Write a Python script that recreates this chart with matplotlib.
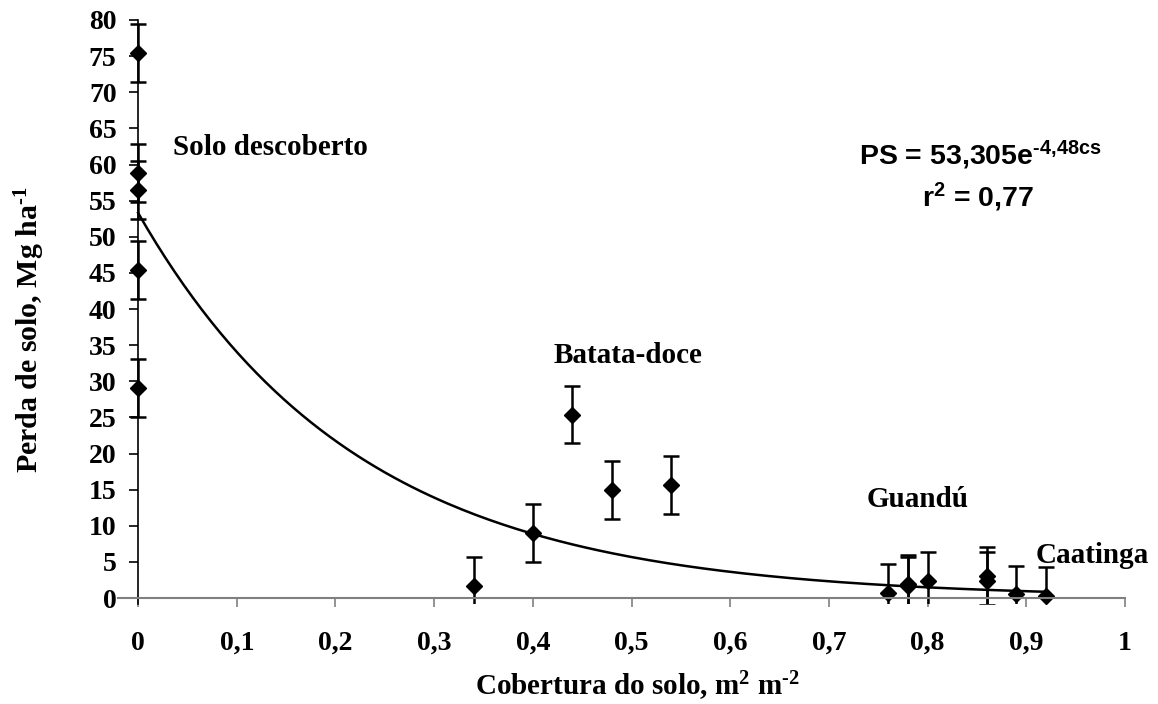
import numpy as np
import matplotlib
matplotlib.use("Agg")
import matplotlib.pyplot as plt

# cobertura do solo (m2 m-2) e perda de solo (Mg/ha)
cobertura = [0, 0, 0, 0, 0, 0.34, 0.40, 0.44, 0.48, 0.54,
             0.76, 0.78, 0.78, 0.80, 0.86, 0.86, 0.89, 0.92]
perda = [75.4, 58.8, 56.5, 45.4, 29.1, 1.7, 9.0, 25.4, 14.9, 15.6,
         0.7, 2.0, 1.7, 2.4, 3.1, 2.4, 0.5, 0.3]
erro = [4.0] * len(perda)

# ajuste exponencial PS = a * exp(b * cs)
a, b = 53.305, -4.48

xticks = [0, 0.1, 0.2, 0.3, 0.4, 0.5, 0.6, 0.7, 0.8, 0.9, 1]
xtick_labels = ["0", "0,1", "0,2", "0,3", "0,4", "0,5", "0,6", "0,7", "0,8", "0,9", "1"]
yticks = list(range(0, 81, 5))

serif = "Liberation Serif"
sans = "Liberation Sans"
hifen = "\u2010"

fig = plt.figure(figsize=(11.58, 7.04), dpi=100)
ax = fig.add_axes([0.1022, 0.1423, 0.8693, 0.8293])

cs = np.linspace(0, 0.92, 200)
ax.plot(cs, a * np.exp(b * cs), color="black", lw=1.8)

ax.errorbar(cobertura, perda, yerr=erro, fmt="D", color="black", ms=8,
            capsize=5.5, elinewidth=1.8, capthick=1.8)

ax.set_xlim(-0.02, 1.0)
ax.set_ylim(-0.8, 80)
ax.spines["left"].set_position(("data", 0))
ax.spines["bottom"].set_position(("data", 0))
ax.spines["top"].set_visible(False)
ax.spines["right"].set_visible(False)
ax.spines["bottom"].set_color("#808080")
ax.spines["bottom"].set_linewidth(1.5)
ax.spines["left"].set_linewidth(1.2)

ax.set_xticks(xticks)
ax.set_xticklabels(xtick_labels)
ax.set_yticks(yticks)
ax.tick_params(axis="x", direction="out", length=6.5, width=1.2, color="#808080", pad=17)
ax.tick_params(axis="y", direction="out", length=6.5, width=1.2, pad=9)
for lab in ax.get_xticklabels() + ax.get_yticklabels():
    lab.set_fontfamily(serif)
    lab.set_fontweight("bold")
    lab.set_fontsize(20)

ax.set_ylabel("Perda de solo, Mg ha$\\mathregular{^{" + hifen + "1}}$", fontfamily=serif,
              fontweight="bold", fontsize=21.5)
ax.yaxis.set_label_coords(-0.071, 0.469)
ax.set_xlabel("Cobertura do solo, m$\\mathregular{^2}$ m$\\mathregular{^{" + hifen + "2}}$",
              fontfamily=serif, fontweight="bold", fontsize=21)
ax.xaxis.set_label_coords(0.516, -0.113)

txt = dict(fontfamily=serif, fontweight="bold", fontsize=21, va="center")
ax.text(0.035, 62.4, "Solo descoberto", ha="left", **txt)
ax.text(0.496, 33.5, "Batata-doce", ha="center", **txt)
ax.text(0.790, 13.7, "Guandú", ha="center", **txt)
ax.text(0.909, 5.9, "Caatinga", ha="left", **txt)

eq = dict(fontfamily=sans, fontweight="bold", fontsize=20.5, ha="center", va="center")
ax.text(0.853, 61.3, "PS = 53,305e$\\mathregular{^{" + hifen + "4{,}48cs}}$", **eq)
ax.text(0.851, 55.5, "r$\\mathregular{^2}$ = 0,77", **eq)

fig.savefig("out.png", dpi=100)
